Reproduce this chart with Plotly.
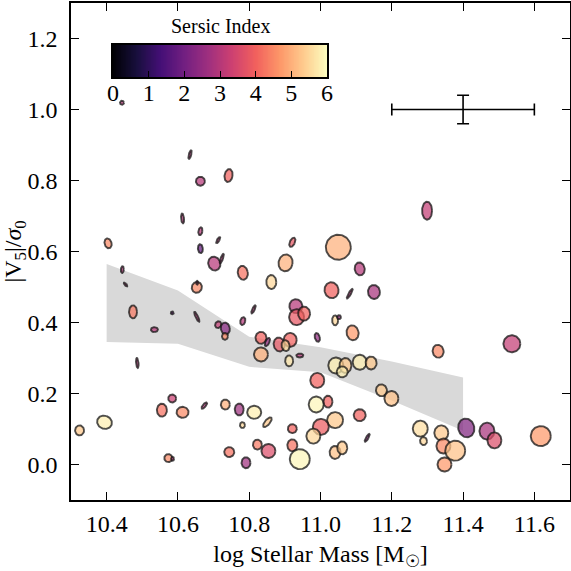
import numpy as np
import plotly.graph_objects as go
from plotly.colors import sample_colorscale

# ---- data ----
mass = [10.443, 10.634, 10.663, 10.742, 10.613, 10.663, 10.713, 10.663, 10.702, 10.723,
        10.782, 10.902, 10.921, 10.862, 10.653, 10.654, 10.404, 10.444, 10.453, 10.474,
        10.584, 10.653, 10.534, 10.812, 10.782, 10.713, 10.733, 10.732, 10.486, 10.833,
        10.851, 10.884, 10.915, 10.902, 10.833, 10.942, 10.912, 10.991, 11.031, 11.082,
        11.150, 10.931, 10.933, 10.954, 11.041, 11.052, 11.090, 10.991, 11.043, 11.070,
        11.061, 11.110, 11.142, 11.171, 11.199, 10.988, 11.021, 11.110, 11.041, 11.001,
        10.980, 10.921, 11.131, 11.041, 11.061, 10.921, 10.942, 10.854, 10.823, 10.814,
        10.772, 10.781, 10.851, 10.791, 10.324, 10.394, 10.584, 10.555, 10.613, 10.674,
        10.733, 10.744, 10.573, 10.585, 11.299, 11.050, 11.110, 11.330, 11.537, 11.280,
        11.289, 11.339, 11.345, 11.378, 11.348, 11.409, 11.467, 11.488, 11.618]
vsig = [1.019, 0.873, 0.798, 0.814, 0.693, 0.657, 0.632, 0.608, 0.566, 0.580,
        0.540, 0.568, 0.626, 0.514, 0.499, 0.512, 0.623, 0.549, 0.507, 0.430,
        0.427, 0.416, 0.380, 0.437, 0.404, 0.394, 0.383, 0.361, 0.286, 0.357,
        0.345, 0.338, 0.351, 0.335, 0.310, 0.307, 0.292, 0.237, 0.491, 0.481,
        0.486, 0.446, 0.415, 0.425, 0.406, 0.415, 0.371, 0.358, 0.279, 0.279,
        0.261, 0.288, 0.286, 0.209, 0.186, 0.169, 0.177, 0.139, 0.125, 0.106,
        0.080, 0.101, 0.075, 0.034, 0.047, 0.054, 0.015, 0.038, 0.056, 0.147,
        0.155, 0.111, 0.119, 0.005, 0.096, 0.119, 0.186, 0.153, 0.147, 0.166,
        0.169, 0.035, 0.018, 0.016, 0.715, 0.612, 0.551, 0.319, 0.340, 0.101,
        0.066, 0.089, 0.052, 0.039, 0.000, 0.103, 0.094, 0.068, 0.080]
sersic = [3.0, 3.0, 3.0, 4.0, 3.0, 3.0, 3.0, 1.8, 3.0, 3.0,
          4.2, 5.0, 3.8, 5.5, 4.5, 3.0, 4.5, 3.0, 3.0, 4.3,
          2.0, 3.0, 3.0, 3.0, 3.0, 3.2, 2.3, 4.5, 3.0, 4.0,
          2.5, 3.8, 4.0, 5.5, 5.0, 3.0, 5.7, 4.0, 4.0, 3.0,
          2.8, 3.0, 3.8, 4.0, 5.5, 2.5, 4.7, 2.5, 5.8, 5.3,
          5.8, 5.8, 5.3, 5.3, 5.2, 5.9, 4.0, 4.0, 5.3, 3.9,
          5.5, 4.0, 2.5, 5.2, 5.3, 4.2, 5.9, 3.6, 4.3, 5.8,
          2.7, 5.5, 5.3, 2.7, 5.3, 5.8, 3.3, 4.2, 4.5, 3.0,
          5.0, 4.2, 4.5, 3.0, 3.2, 5.0, 3.0, 4.5, 3.2, 5.6,
          5.5, 5.3, 4.5, 5.2, 4.7, 2.2, 2.8, 3.6, 4.7]
axis_minor = [4, 2.5, 9, 8, 3, 4, 2.5, 5, 12, 2.5,
              10, 14, 5, 10, 10, 2, 7, 3, 2, 8,
              3, 2.5, 5, 2.5, 5, 6, 9, 6, 2.5, 11,
              4, 11, 13, 8, 14, 4, 8, 14, 14, 2.5,
              12, 13, 15, 12, 6, 4, 12, 5, 15, 12,
              11, 14, 11, 11, 14, 15, 9, 12, 16, 16,
              14, 9, 2.5, 11, 10, 10, 20, 14, 9, 13,
              9, 5, 5, 9, 9, 13, 8, 10, 11, 3,
              9, 10, 8, 3, 10, 25, 10, 11, 17, 15,
              7, 14, 14, 20, 14, 16, 15, 14, 20]
axis_major = [4, 9, 9, 13, 10, 8, 7, 9, 14, 10,
              14, 17, 10, 14, 11, 4, 10, 7, 5, 13,
              3, 11, 7, 9, 8, 7, 12, 7, 10, 12,
              9, 14, 14, 11, 14, 7, 11, 15, 16, 11,
              14, 14, 16, 14, 10, 4, 15, 9, 16, 15,
              11, 15, 13, 12, 15, 16, 12, 12, 16, 16,
              15, 9, 9, 13, 13, 12, 20, 14, 10, 14,
              12, 6, 12, 11, 10, 15, 8, 13, 12, 8,
              10, 10, 8, 4, 18, 25, 13, 13, 17, 16,
              8, 15, 15, 20, 14, 19, 17, 16, 20]
pos_angle = [0, 15, 0, 10, -5, 10, 30, -5, -20, 20,
             -10, 10, 25, 0, 20, 0, -15, 5, -40, 0,
             0, -25, 90, 25, 15, 30, -10, 0, -5, 0,
             25, -10, 0, -10, 0, 90, 0, 0, -10, 30,
             -5, -10, 0, 0, 0, 0, -10, -15, 0, 0,
             0, 0, 0, -10, 0, 0, 0, 0, 0, 0,
             0, 0, 30, 0, 0, 0, 0, 0, 0, 90,
             0, 0, 40, 0, 0, -70, 0, 0, 90, 40,
             0, 0, 0, 0, 0, 0, -10, -10, 0, 0,
             0, 0, 0, 0, 0, -15, 0, 0, 0]

band_mass = [10.4, 10.6, 10.8, 11.0, 11.2, 11.4]
band_upper = [0.565, 0.49, 0.36, 0.33, 0.29, 0.245]
band_lower = [0.345, 0.34, 0.275, 0.26, 0.18, 0.095]

err_mass, err_vsig = [11.4], [1.0]
err_dmass, err_dvsig = [0.2], [0.04]

x_ticks = [10.4, 10.6, 10.8, 11.0, 11.2, 11.4, 11.6]
y_ticks = [0.0, 0.2, 0.4, 0.6, 0.8, 1.0, 1.2]
cbar_ticks = [0, 1, 2, 3, 4, 5, 6]
cbar_range = [0, 6]

# ---- layout geometry ----
W, H = 571, 571
ML, MR, MT, MB = 71, 1, 3, 71
XR = [10.3, 11.7]
YR = [-0.1, 1.3]
PW, PH = W - ML - MR, H - MT - MB
sx = PW / (XR[1] - XR[0])
sy = PH / (YR[1] - YR[0])
FONT = "Liberation Serif, Times New Roman, DejaVu Serif, serif"

fig = go.Figure()

# grey band
fig.add_trace(go.Scatter(
    x=band_mass + band_mass[::-1], y=band_upper + band_lower[::-1],
    fill="toself", fillcolor="#d9d9d9", line=dict(width=0), mode="lines",
    hoverinfo="skip", showlegend=False))

# ellipses
t = np.linspace(0, 2 * np.pi, 72)
for xm, yv, n, a, b, ang in zip(mass, vsig, sersic, axis_minor, axis_major, pos_angle):
    phi = np.deg2rad(ang)
    dx = 0.5 * a * np.cos(t)
    dy = 0.5 * b * np.sin(t)
    xp = dx * np.cos(phi) + dy * np.sin(phi)
    yp = -dx * np.sin(phi) + dy * np.cos(phi)
    c = sample_colorscale("Magma", [n / 6.0], colortype="tuple")[0]
    rgb = tuple(int(round(v * 255)) if v <= 1 else int(v) for v in c)
    fig.add_trace(go.Scatter(
        x=xm + xp / sx, y=yv + yp / sy, mode="lines", fill="toself",
        fillcolor="rgba(%d,%d,%d,0.72)" % rgb,
        line=dict(color="rgba(20,20,20,0.75)", width=1.9),
        hoverinfo="skip", showlegend=False))

# error bar
fig.add_trace(go.Scatter(
    x=err_mass, y=err_vsig, mode="markers", marker=dict(size=1, color="black"),
    error_x=dict(type="data", array=err_dmass, color="black", thickness=1.6, width=6),
    error_y=dict(type="data", array=err_dvsig, color="black", thickness=1.6, width=6),
    showlegend=False, hoverinfo="skip"))

# inset colour bar (heatmap on its own small axes)
nb = 256
edges = np.linspace(cbar_range[0], cbar_range[1], nb + 1)
mids = 0.5 * (edges[:-1] + edges[1:])
fig.add_trace(go.Heatmap(
    x=edges, y=[0, 1], z=[mids], colorscale="Magma",
    zmin=cbar_range[0], zmax=cbar_range[1], showscale=False,
    hoverinfo="skip", xaxis="x2", yaxis="y2"))

cb_x0, cb_x1 = 113, 327   # pixel box of the colour bar
cb_y0, cb_y1 = 45, 77

axis_common = dict(
    showline=True, linecolor="black", linewidth=1.6, mirror="allticks",
    ticks="inside", ticklen=8, tickwidth=1, tickcolor="black",
    showgrid=False, zeroline=False, automargin=False,
    tickfont=dict(family=FONT, size=24, color="black"),
)
fig.update_layout(
    width=W, height=H,
    margin=dict(l=ML, r=MR, t=MT, b=MB, autoexpand=False),
    paper_bgcolor="white", plot_bgcolor="white",
    xaxis=dict(range=XR, tickvals=x_ticks, ticktext=["%.1f" % v for v in x_ticks],
               ticklabelstandoff=1,
               title=dict(text="log Stellar Mass [M<sub>☉</sub>]", standoff=10,
                          font=dict(family=FONT, size=24, color="black")),
               **axis_common),
    yaxis=dict(range=YR, tickvals=y_ticks, ticktext=["%.1f" % v for v in y_ticks],
               ticklabelstandoff=7,
               title=dict(text="|V<sub>5</sub>|/<i>σ</i><sub>0</sub>", standoff=0,
                          font=dict(family=FONT, size=24, color="black")),
               **axis_common),
    xaxis2=dict(domain=[(cb_x0 - ML) / PW, (cb_x1 - ML) / PW], anchor="y2",
                range=cbar_range, tickvals=cbar_ticks,
                ticktext=[str(v) for v in cbar_ticks],
                showline=True, mirror=True, linecolor="black", linewidth=1.6,
                ticks="inside", ticklen=6, tickwidth=1, tickcolor="black",
                ticklabelstandoff=-7,
                showgrid=False, zeroline=False, automargin=False,
                tickfont=dict(family=FONT, size=24, color="black")),
    yaxis2=dict(domain=[(H - MB - cb_y1) / PH, (H - MB - cb_y0) / PH], anchor="x2",
                range=[0, 1], showticklabels=False, ticks="",
                showline=True, mirror=True, linecolor="black", linewidth=1.6,
                showgrid=False, zeroline=False, automargin=False),
    annotations=[dict(text="Sersic Index", xref="x2 domain", yref="y2 domain",
                      x=0.5, y=1, xanchor="center", yanchor="bottom", yshift=6,
                      showarrow=False,
                      font=dict(family=FONT, size=20, color="black"))],
    font=dict(family=FONT, color="black"),
)

fig.write_html("out.html", config={"displayModeBar": False},
               post_script="document.body.style.margin='0';document.body.style.overflow='hidden';")
